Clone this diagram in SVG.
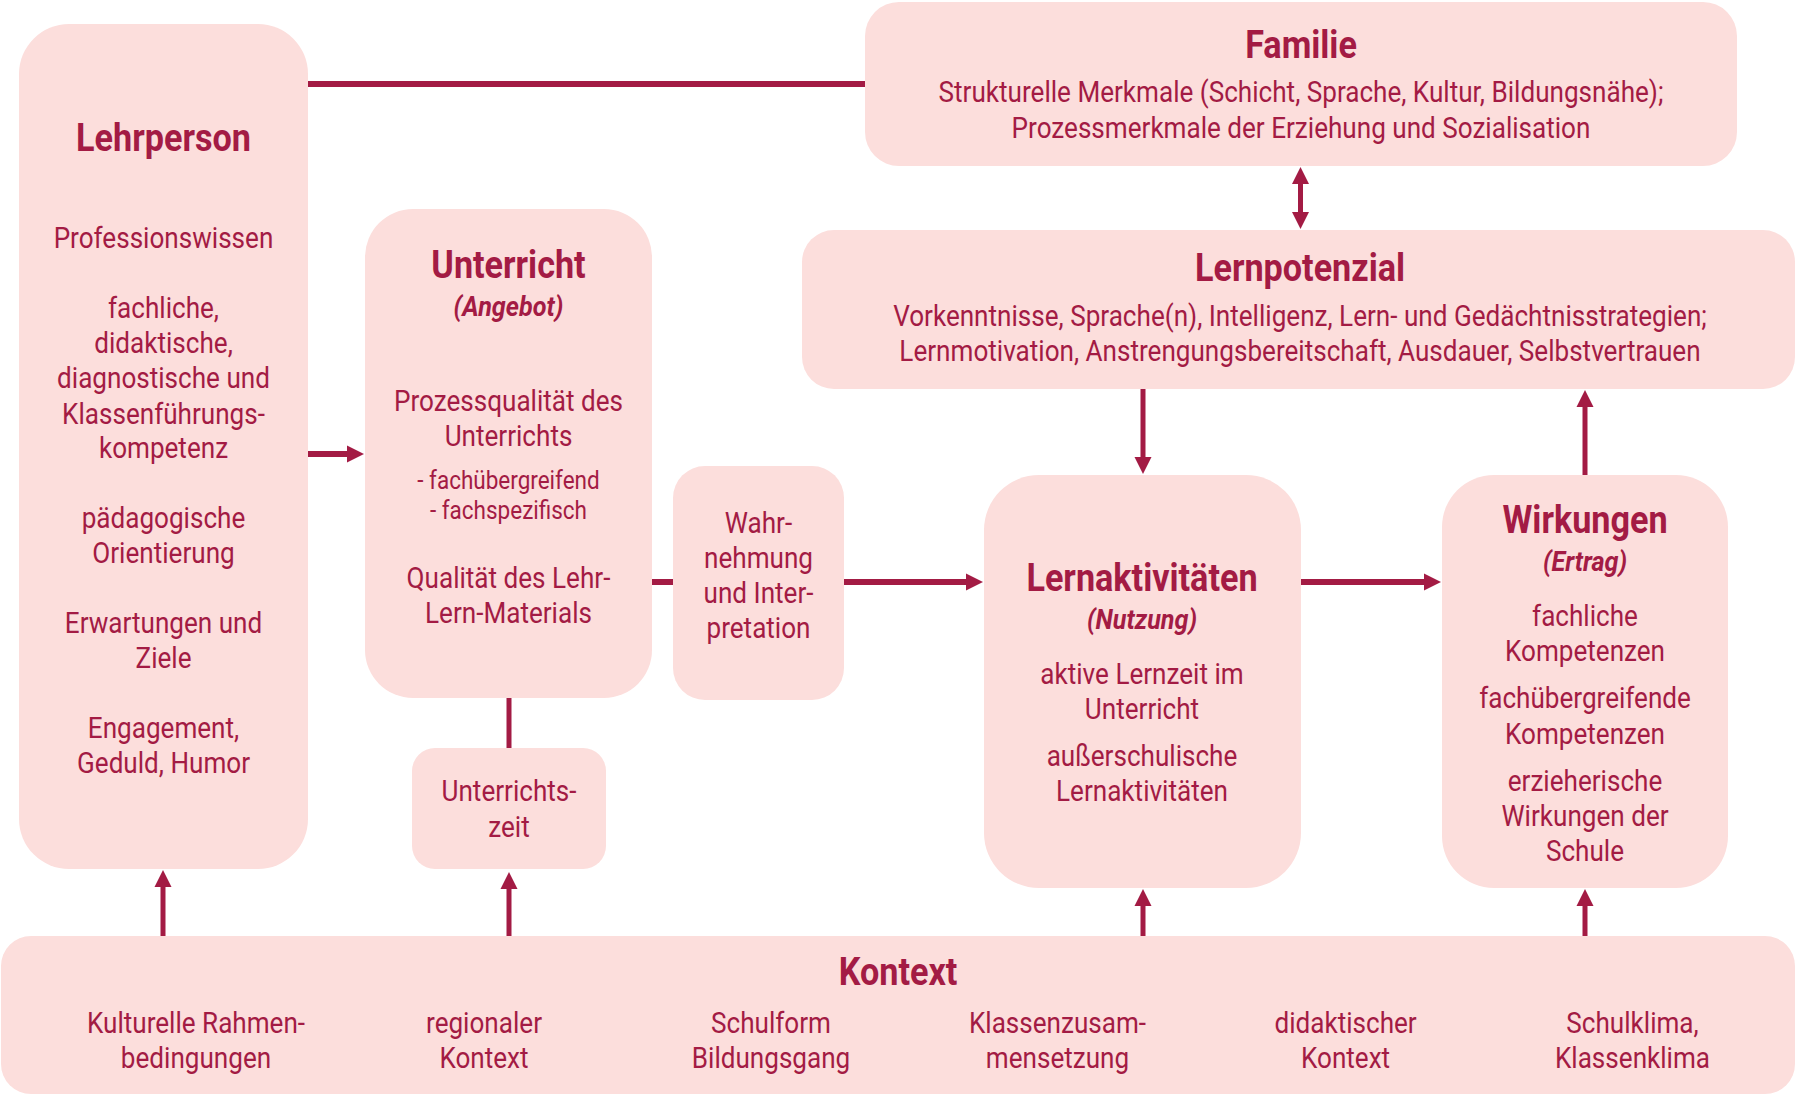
<svg xmlns="http://www.w3.org/2000/svg" width="1797" height="1095" viewBox="0 0 1797 1095">
<style>
.box{fill:#fcdedc}
text{font-family:Roboto,"Liberation Sans",sans-serif;fill:#a31b44;text-anchor:middle}
.t{font-size:38px;font-weight:700}
.s{font-size:28px;font-weight:700;font-style:italic}
.b{font-size:29px}
.sm{font-size:25px}
.ln{stroke:#a31b44;stroke-width:6;fill:none}
.lv{stroke:#a31b44;stroke-width:5;fill:none}
</style>
<defs>
<marker id="ah" markerUnits="userSpaceOnUse" markerWidth="18" markerHeight="18" refX="1" refY="8.5" orient="auto-start-reverse" viewBox="0 0 18 17">
<path d="M0,0 L17,8.5 L0,17 z" fill="#a31b44"/>
</marker>
</defs>
<rect width="1797" height="1095" fill="#ffffff"/>
<g id="connectors">
<path class="ln" d="M308,84 H865"/>
<path class="ln" d="M308,454 H348" marker-end="url(#ah)"/>
<path class="ln" d="M652,582 H673"/>
<path class="ln" d="M844,582 H967" marker-end="url(#ah)"/>
<path class="ln" d="M1301,582 H1425" marker-end="url(#ah)"/>
<path class="lv" d="M1300.5,183 V213" marker-start="url(#ah)" marker-end="url(#ah)"/>
<path class="lv" d="M1143,389 V458" marker-end="url(#ah)"/>
<path class="lv" d="M1585,475 V406" marker-end="url(#ah)"/>
<path class="lv" d="M509,698 V748"/>
<path class="lv" d="M163,936 V886" marker-end="url(#ah)"/>
<path class="lv" d="M509,936 V888" marker-end="url(#ah)"/>
<path class="lv" d="M1143,936 V905" marker-end="url(#ah)"/>
<path class="lv" d="M1585,936 V905" marker-end="url(#ah)"/>
</g>
<g id="lehrperson">
<rect class="box" x="19" y="24" width="289" height="845" rx="50"/>
<g transform="translate(163.5 1) scale(0.9 1)">
<text class="t" x="0" y="150">Lehrperson</text>
<text class="b" x="0" y="247">Professionswissen</text>
<text class="b" x="0" y="317">fachliche,</text>
<text class="b" x="0" y="352">didaktische,</text>
<text class="b" x="0" y="387">diagnostische und</text>
<text class="b" x="0" y="423">Klassenführungs-</text>
<text class="b" x="0" y="457">kompetenz</text>
<text class="b" x="0" y="527">pädagogische</text>
<text class="b" x="0" y="562">Orientierung</text>
<text class="b" x="0" y="632">Erwartungen und</text>
<text class="b" x="0" y="667">Ziele</text>
<text class="b" x="0" y="737">Engagement,</text>
<text class="b" x="0" y="772">Geduld, Humor</text>
</g>
</g>
<g id="unterricht">
<rect class="box" x="365" y="209" width="287" height="489" rx="48"/>
<g transform="translate(508.5 1) scale(0.9 1)">
<text class="t" x="0" y="277">Unterricht</text>
<text class="s" x="0" y="315">(Angebot)</text>
<text class="b" x="0" y="410">Prozessqualität des</text>
<text class="b" x="0" y="445">Unterrichts</text>
<text class="sm" x="0" y="488">- fachübergreifend</text>
<text class="sm" x="0" y="518">- fachspezifisch</text>
<text class="b" x="0" y="587">Qualität des Lehr-</text>
<text class="b" x="0" y="622">Lern-Materials</text>
</g>
</g>
<g id="wahrnehmung">
<rect class="box" x="673" y="466" width="171" height="234" rx="32"/>
<g transform="translate(758.5 1) scale(0.9 1)">
<text class="b" x="0" y="532">Wahr-</text>
<text class="b" x="0" y="567">nehmung</text>
<text class="b" x="0" y="602">und Inter-</text>
<text class="b" x="0" y="637">pretation</text>
</g>
</g>
<g id="unterrichtszeit">
<rect class="box" x="412" y="748" width="194" height="121" rx="23"/>
<g transform="translate(509 1) scale(0.9 1)">
<text class="b" x="0" y="800">Unterrichts-</text>
<text class="b" x="0" y="836">zeit</text>
</g>
</g>
<g id="familie">
<rect class="box" x="865" y="2" width="872" height="164" rx="34"/>
<g transform="translate(1301 1) scale(0.9 1)">
<text class="t" x="0" y="57">Familie</text>
<text class="b" x="0" y="101">Strukturelle Merkmale (Schicht, Sprache, Kultur, Bildungsnähe);</text>
<text class="b" x="0" y="137">Prozessmerkmale der Erziehung und Sozialisation</text>
</g>
</g>
<g id="lernpotenzial">
<rect class="box" x="802" y="230" width="993" height="159" rx="32"/>
<g transform="translate(1300 1) scale(0.9 1)">
<text class="t" x="0" y="280">Lernpotenzial</text>
<text class="b" x="0" y="325">Vorkenntnisse, Sprache(n), Intelligenz, Lern- und Gedächtnisstrategien;</text>
<text class="b" x="0" y="360">Lernmotivation, Anstrengungsbereitschaft, Ausdauer, Selbstvertrauen</text>
</g>
</g>
<g id="lernaktivitaeten">
<rect class="box" x="984" y="475" width="317" height="413" rx="55"/>
<g transform="translate(1142 1) scale(0.9 1)">
<text class="t" x="0" y="590">Lernaktivitäten</text>
<text class="s" x="0" y="628">(Nutzung)</text>
<text class="b" x="0" y="683">aktive Lernzeit im</text>
<text class="b" x="0" y="718">Unterricht</text>
<text class="b" x="0" y="765">außerschulische</text>
<text class="b" x="0" y="800">Lernaktivitäten</text>
</g>
</g>
<g id="wirkungen">
<rect class="box" x="1442" y="475" width="286" height="413" rx="52"/>
<g transform="translate(1585 1) scale(0.9 1)">
<text class="t" x="0" y="532">Wirkungen</text>
<text class="s" x="0" y="570">(Ertrag)</text>
<text class="b" x="0" y="625">fachliche</text>
<text class="b" x="0" y="660">Kompetenzen</text>
<text class="b" x="0" y="707">fachübergreifende</text>
<text class="b" x="0" y="743">Kompetenzen</text>
<text class="b" x="0" y="790">erzieherische</text>
<text class="b" x="0" y="825">Wirkungen der</text>
<text class="b" x="0" y="860">Schule</text>
</g>
</g>
<g id="kontext">
<rect class="box" x="1" y="936" width="1794" height="158" rx="30"/>
<g transform="translate(0 1) scale(0.9 1)">
<text class="t" x="997.8" y="984">Kontext</text>
<text class="b" x="217.8" y="1032">Kulturelle Rahmen-</text>
<text class="b" x="217.8" y="1067">bedingungen</text>
<text class="b" x="537.8" y="1032">regionaler</text>
<text class="b" x="537.8" y="1067">Kontext</text>
<text class="b" x="856.7" y="1032">Schulform</text>
<text class="b" x="856.7" y="1067">Bildungsgang</text>
<text class="b" x="1175" y="1032">Klassenzusam-</text>
<text class="b" x="1175" y="1067">mensetzung</text>
<text class="b" x="1495.1" y="1032">didaktischer</text>
<text class="b" x="1495.1" y="1067">Kontext</text>
<text class="b" x="1813.9" y="1032">Schulklima,</text>
<text class="b" x="1813.9" y="1067">Klassenklima</text>
</g>
</g>
</svg>
